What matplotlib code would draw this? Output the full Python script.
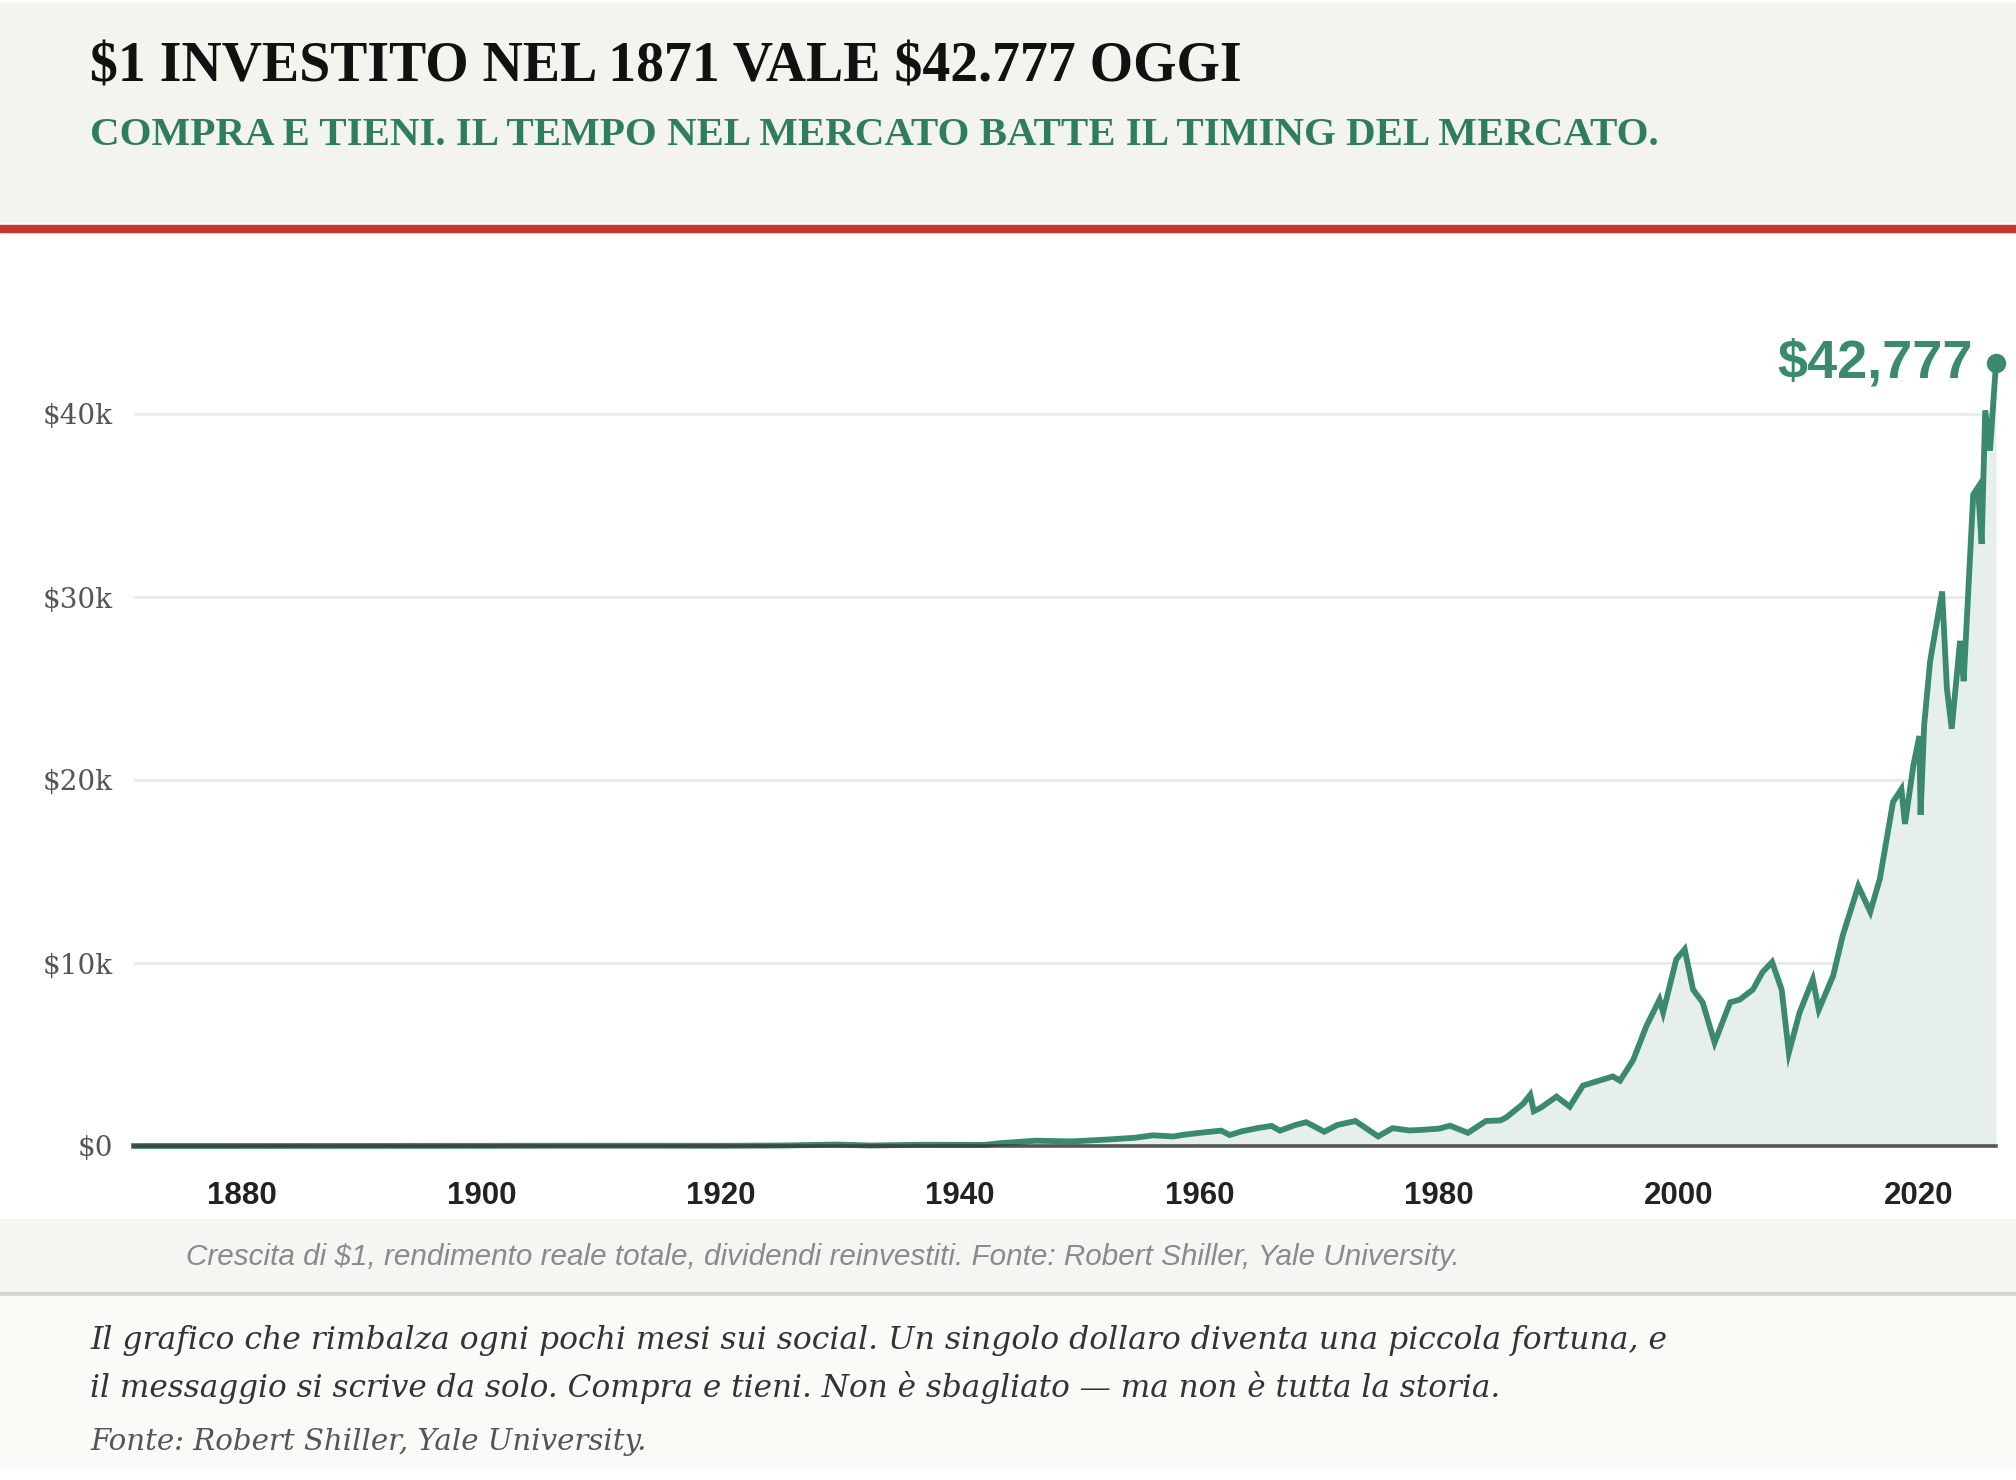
import matplotlib
matplotlib.use("Agg")
import matplotlib.pyplot as plt
from matplotlib.patches import Rectangle

plt.rcParams["text.parse_math"] = False  # i "$" sono testo normale

# Valore reale di $1 investito nel 1871
anni = [1871.0, 1875.0, 1880.0, 1890.0, 1900.0, 1906.0, 1910.0, 1915.0, 1920.0,
        1925.0, 1929.7, 1932.5, 1937.0, 1942.0, 1943.3, 1946.3, 1949.3, 1952.2,
        1954.6, 1956.1, 1957.8, 1958.5, 1960.0, 1961.8, 1962.5, 1963.5, 1964.8,
        1966.0, 1966.7, 1968.0, 1968.9, 1970.4, 1971.5, 1973.0, 1974.9, 1976.1,
        1977.5, 1978.5, 1980.0, 1980.9, 1982.4, 1983.9, 1985.1, 1985.6, 1987.0,
        1987.6, 1987.9, 1988.5, 1989.8, 1990.9, 1992.0, 1993.5, 1994.5, 1995.1,
        1996.2, 1997.3, 1998.4, 1998.7, 1999.8, 2000.5, 2001.2, 2002.0, 2003.0,
        2004.3, 2005.1, 2006.2, 2007.0, 2007.8, 2008.6, 2009.2, 2010.1, 2011.2,
        2011.7, 2012.9, 2013.7, 2015.0, 2016.0, 2016.8, 2017.9, 2018.6, 2018.9,
        2019.6, 2020.1, 2020.2, 2020.5, 2021.0, 2022.0, 2022.4, 2022.8, 2023.5,
        2023.8, 2024.6, 2025.0, 2025.3, 2025.6, 2026.0, 2026.5]
valori = [1, 2, 3, 5, 9, 15, 16, 15, 11,
          25, 80, 25, 70, 60, 150, 290, 250, 350,
          450, 585, 520, 600, 720, 840, 600, 800, 975,
          1100, 840, 1150, 1300, 780, 1150, 1365, 525, 975,
          850, 880, 950, 1110, 720, 1365, 1400, 1560, 2300,
          2800, 1900, 2100, 2700, 2150, 3300, 3600, 3800, 3570,
          4700, 6550, 8000, 7300, 10200, 10750, 8550, 7850, 5650,
          7850, 8000, 8550, 9500, 10050, 8550, 5100, 7300, 9100,
          7450, 9300, 11500, 14200, 12800, 14600, 18800, 19500, 17600,
          20800, 22400, 18100, 23000, 26500, 30300, 25000, 22800, 27600,
          25400, 35600, 36000, 32900, 40200, 38000, 42777]

tick_anni = [1880, 1900, 1920, 1940, 1960, 1980, 2000, 2020]
tick_valori = [0, 10000, 20000, 30000, 40000]
etichette_y = ["$0", "$10k", "$20k", "$30k", "$40k"]

titolo = "$1 INVESTITO NEL 1871 VALE $42.777 OGGI"
sottotitolo = "COMPRA E TIENI. IL TEMPO NEL MERCATO BATTE IL TIMING DEL MERCATO."
didascalia = ("Crescita di $1, rendimento reale totale, dividendi reinvestiti. "
              "Fonte: Robert Shiller, Yale University.")
testo_1 = ("Il grafico che rimbalza ogni pochi mesi sui social. Un singolo dollaro "
           "diventa una piccola fortuna, e")
testo_2 = ("il messaggio si scrive da solo. Compra e tieni. Non è sbagliato \u2014 "
           "ma non è tutta la storia.")
fonte = "Fonte: Robert Shiller, Yale University."

VERDE = "#3b8a6f"
W, H = 2016, 1480

fig = plt.figure(figsize=(W / 100, H / 100), dpi=100)
fig.patch.set_facecolor("white")


def banda(y0, y1, colore):
    # y in pixel dall'alto
    fig.patches.append(Rectangle((0, 1 - y1 / H), 1, (y1 - y0) / H,
                                 transform=fig.transFigure, color=colore, zorder=0))


banda(3, 222, "#f4f4ef")
banda(225, 232, "#c8372d")
banda(1219, 1292, "#f5f5f2")
banda(1292, 1296, "#d4d4d4")
banda(1296, 1468, "#fafaf7")

# grafico
ax = fig.add_axes([134 / W, (H - 1146) / H, (1996 - 134) / W, (1146 - 322.5) / H])
ax.set_facecolor("none")
ax.set_xlim(1871, 2026.5)
ax.set_ylim(0, 45000)
ax.fill_between(anni, valori, 0, color="#e7efed", lw=0, zorder=1)
ax.plot(anni, valori, color=VERDE, lw=4.2, solid_joinstyle="miter", zorder=3, clip_on=False)
ax.plot([anni[-1]], [valori[-1]], "o", color=VERDE, ms=13, zorder=4, clip_on=False)
ax.axhline(0, color="#3a3a3a", lw=2.6, alpha=0.85, zorder=5, clip_on=False)
for v in tick_valori[1:]:
    ax.axhline(v, color="#e8e8e8", lw=1.8, zorder=0.5)

ax.annotate("$42,777", (anni[-1], valori[-1]), xytext=(-17, 0), textcoords="offset points",
            ha="right", va="center", fontsize=39, fontweight="bold", color=VERDE,
            family=["Liberation Sans"], annotation_clip=False)

ax.set_xticks(tick_anni)
ax.set_xticklabels([str(a) for a in tick_anni], fontsize=22.5, fontweight="bold",
                   color="#222222", family=["Liberation Sans"])
ax.set_yticks(tick_valori)
ax.set_yticklabels(etichette_y, fontsize=20, color="#555555", family=["DejaVu Serif"])
ax.tick_params(axis="x", length=0, pad=25)
ax.tick_params(axis="y", length=0, pad=15)
for s in ax.spines.values():
    s.set_visible(False)

# testi
t_tit = fig.text(90 / W, 1 - 81 / H, titolo, fontsize=36, fontweight="bold",
                 color="#111111", family=["Liberation Serif"], va="baseline")
t_sub = fig.text(90 / W, 1 - 145 / H, sottotitolo, fontsize=24, fontweight="bold",
                 color="#2e7d5e", family=["Liberation Serif"], va="baseline")
t_did = fig.text(186 / W, 1 - 1257 / H, didascalia, fontsize=19, style="italic",
                 color="#8a8a8a", family=["Liberation Sans"], va="center")
t_1 = fig.text(90 / W, 1 - 1341 / H, testo_1, fontsize=22, style="italic",
               color="#333333", family=["DejaVu Serif"], va="center")
t_2 = fig.text(90 / W, 1 - 1388 / H, testo_2, fontsize=22, style="italic",
               color="#333333", family=["DejaVu Serif"], va="center")
t_f = fig.text(90 / W, 1 - 1442 / H, fonte, fontsize=20, style="italic",
               color="#555555", family=["DejaVu Serif"], va="center")

# adatto la larghezza dei testi a quella del riferimento
renderer = fig.canvas.get_renderer()
for t, larghezza in [(t_tit, 1151), (t_sub, 1575), (t_did, 1271),
                     (t_1, 1576), (t_2, 1412), (t_f, 557)]:
    bb = t.get_window_extent(renderer)
    t.set_fontsize(t.get_fontsize() * larghezza / bb.width)

fig.savefig("out.png", dpi=100)
